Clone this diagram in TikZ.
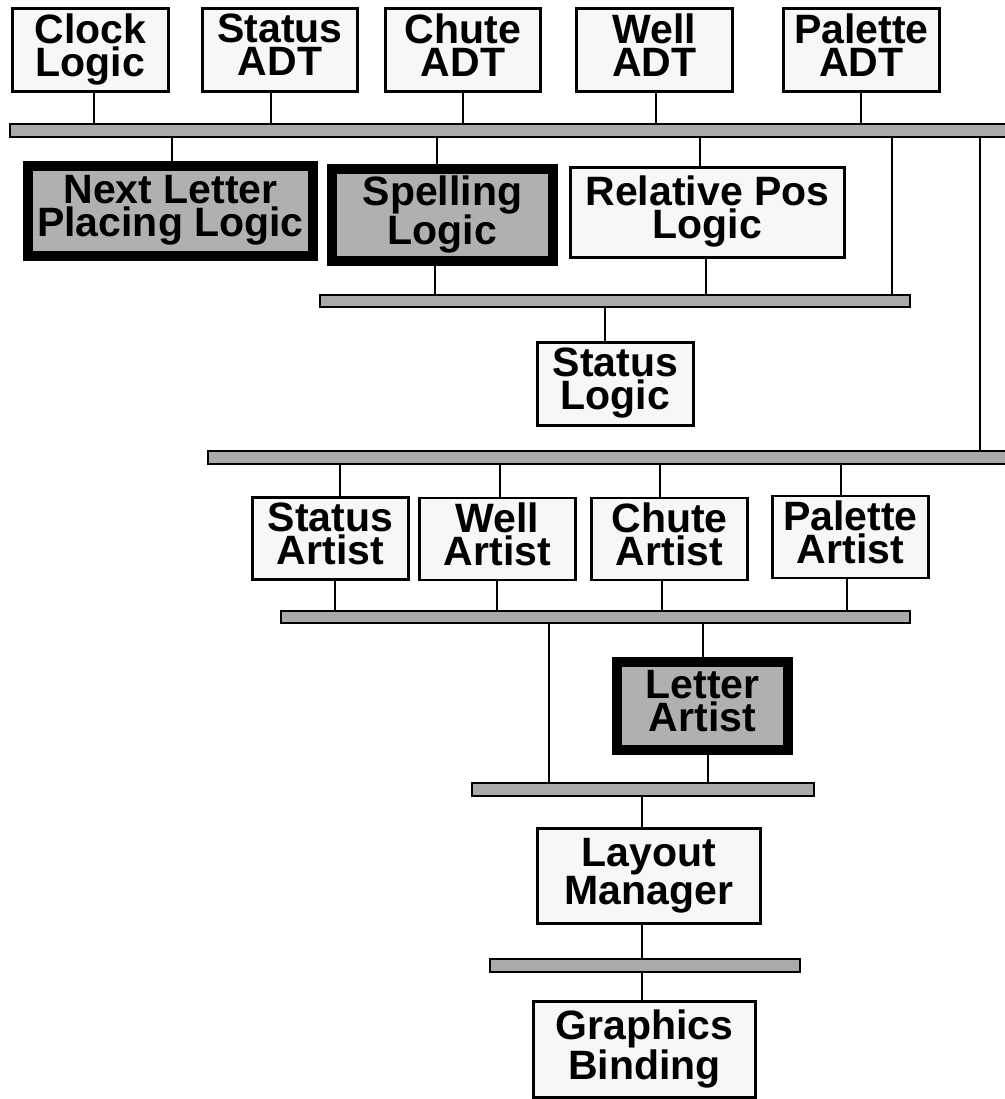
\documentclass[tikz,border=0pt]{standalone}
\usepackage{fontspec}
\setmainfont{Liberation Sans}
\definecolor{boxfill}{HTML}{F7F7F7}
\definecolor{busfill}{HTML}{AAAAAA}
\definecolor{hotfill}{HTML}{B0B0B0}
\begin{document}
\begin{tikzpicture}[x=1pt,y=-1pt,
  box/.style={draw=black,line width=2.2pt,fill=boxfill,inner sep=0pt,align=center,
    font=\bfseries\fontsize{41}{33}\selectfont},
  hotbox/.style={box,line width=10pt,fill=hotfill},
  bus/.style={draw=black,line width=2pt,fill=busfill,inner sep=0pt,minimum height=12.5pt},
  conn/.style={draw=black,line width=2pt}]
\useasboundingbox (0,0) rectangle (1004,1099);
\newcommand{\vlink}[3]{\coordinate (vx) at (#1,0); \draw[conn] (#2 -| vx) -- (#3 -| vx);}
% buses
\node[bus,minimum width=1000pt] (bus1) at (510,130.5) {};
\node[bus,minimum width=590pt] (bus2) at (615,301) {};
\node[bus,minimum width=802pt] (bus3) at (609,457.5) {};
\node[bus,minimum width=629pt] (bus4) at (595.5,617) {};
\node[bus,minimum width=342pt] (bus5) at (643,789.5) {};
\node[bus,minimum width=310pt] (bus6) at (645,965.5) {};
% top row
\node[box,minimum width=156pt,minimum height=83pt] (clock) at (90.5,50) {Clock\\Logic\strut};
\node[box,minimum width=155pt,minimum height=83pt] (sadt) at (280,50) {Status\\ADT\strut};
\node[box,minimum width=155pt,minimum height=83pt] (cadt) at (463,50) {Chute\\ADT\strut};
\node[box,minimum width=156pt,minimum height=83pt] (wadt) at (654.5,50) {Well\\ADT\strut};
\node[box,minimum width=156pt,minimum height=83pt] (padt) at (861.5,50) {Palette\\ADT\strut};
% second row
\node[hotbox,minimum width=285pt,minimum height=90pt] (next) at (170.5,211) {Next Letter\\Placing Logic\strut};
\node[hotbox,minimum width=221pt,minimum height=92pt] (spell) at (442.5,215) {Spelling\\Logic\strut};
\node[box,minimum width=274pt,minimum height=90pt] (relpos) at (707.5,212.5) {Relative Pos\\Logic\strut};
% status logic
\node[box,minimum width=156pt,minimum height=83pt] (slogic) at (615.5,384) {Status\\Logic\strut};
% artists
\node[box,minimum width=156pt,minimum height=82pt] (sart) at (330.5,538.5) {Status\\Artist\strut};
\node[box,minimum width=156pt,minimum height=82pt] (wart) at (497.5,539) {Well\\Artist\strut};
\node[box,minimum width=156pt,minimum height=82pt] (cart) at (669.5,539) {Chute\\Artist\strut};
\node[box,minimum width=156pt,minimum height=82pt] (part) at (850.5,537) {Palette\\Artist\strut};
% letter artist
\node[hotbox,minimum width=171pt,minimum height=88pt] (lart) at (702.5,706) {Letter\\Artist\strut};
% layout, graphics
\node[box,minimum width=223pt,minimum height=95pt] (layout) at (649,876) {Layout\\Manager\strut};
\node[box,minimum width=222pt,minimum height=96pt] (gfx) at (644.5,1049.5) {Graphics\\Binding\strut};
% connectors
\vlink{94}{clock.south}{bus1.north}
\vlink{271}{sadt.south}{bus1.north}
\vlink{463}{cadt.south}{bus1.north}
\vlink{656}{wadt.south}{bus1.north}
\vlink{861}{padt.south}{bus1.north}
\vlink{172}{bus1.south}{next.north}
\vlink{437}{bus1.south}{spell.north}
\vlink{700}{bus1.south}{relpos.north}
\vlink{892}{bus1.south}{bus2.north}
\vlink{980}{bus1.south}{bus3.north}
\vlink{435}{spell.south}{bus2.north}
\vlink{706}{relpos.south}{bus2.north}
\vlink{605}{bus2.south}{slogic.north}
\vlink{340}{bus3.south}{sart.north}
\vlink{500}{bus3.south}{wart.north}
\vlink{660}{bus3.south}{cart.north}
\vlink{841}{bus3.south}{part.north}
\vlink{335}{sart.south}{bus4.north}
\vlink{497}{wart.south}{bus4.north}
\vlink{662}{cart.south}{bus4.north}
\vlink{847}{part.south}{bus4.north}
\vlink{549}{bus4.south}{bus5.north}
\vlink{703}{bus4.south}{lart.north}
\vlink{708}{lart.south}{bus5.north}
\vlink{642}{bus5.south}{layout.north}
\vlink{642}{layout.south}{bus6.north}
\vlink{642}{bus6.south}{gfx.north}
\end{tikzpicture}
\end{document}
